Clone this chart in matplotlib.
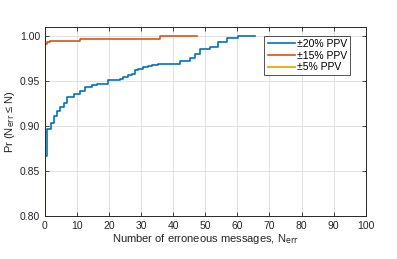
import matplotlib
matplotlib.use("Agg")
import matplotlib.pyplot as plt

plt.rcParams['font.family'] = ['Liberation Sans', 'DejaVu Sans']

# Data (step / CDF values)
n_20 = [0, 0.5, 2.0, 2.8, 3.8, 4.8, 5.8, 6.9, 8.9, 11.0, 12.6, 14.7, 16.2, 19.7,
        23.4, 24.4, 26.0, 27.0, 28.0, 29.0, 30.7, 32.2, 33.3, 35.3, 42.1, 45.2,
        46.8, 48.3, 51.4, 54.0, 56.6, 60.3, 65.5]
p_20 = [0.867, 0.8965, 0.9035, 0.911, 0.9168, 0.921, 0.9257, 0.9317, 0.936, 0.939,
        0.943, 0.9453, 0.947, 0.951, 0.9527, 0.9542, 0.9564, 0.9583, 0.962, 0.9638,
        0.9653, 0.9667, 0.9683, 0.9694, 0.972, 0.976, 0.980, 0.9857, 0.9876,
        0.9932, 0.9976, 1.000, 1.000]

n_15 = [0, 0.7, 1.6, 5.0, 11.0, 17.0, 36.0, 47.3]
p_15 = [0.9908, 0.993, 0.9945, 0.995, 0.9963, 0.997, 0.9995, 0.9995]

n_5 = [0, 0]
p_5 = [0.0, 1.0]

labels = ['\u00b120% PPV', '\u00b115% PPV', '\u00b15% PPV']
colors = ['#0072BD', '#D95319', '#EDB120']

fig = plt.figure(figsize=(3.97, 2.59), dpi=100)
ax = fig.add_axes([45/397, 1-216/259, (365.7-45)/397, (216-27)/259])

ax.step(n_20, p_20, where='post', color=colors[0], lw=1.2, label=labels[0])
ax.step(n_15, p_15, where='post', color=colors[1], lw=1.2, label=labels[1])
ax.plot(n_5, p_5, color=colors[2], lw=1.5, label=labels[2])

ax.set_xlim(0, 100)
ax.set_ylim(0.80, 1.01)
ax.set_xticks(range(0, 101, 10))
ax.set_yticks([0.80, 0.85, 0.90, 0.95, 1.00])
ax.set_yticklabels(['0.80', '0.85', '0.90', '0.95', '1.00'])
ax.grid(True, color='#dcdcdc', lw=0.6)
ax.set_axisbelow(True)
ax.tick_params(direction='in', top=True, right=True, labelsize=7.5,
               colors='#262626', length=3, width=0.6)
for s in ax.spines.values():
    s.set_color('#262626')
    s.set_linewidth(0.7)

ax.set_xlabel('Number of erroneous messages, N$_{\\mathrm{err}}$', fontsize=8,
              color='#262626', labelpad=1)
ax.set_ylabel('Pr (N$_{\\mathrm{err}}$ \u2264 N)', fontsize=8, color='#262626',
              labelpad=2)

leg = ax.legend(loc='upper right', bbox_to_anchor=(350/397, 1-36/259),
                bbox_transform=fig.transFigure, fontsize=7.5, frameon=True,
                fancybox=False, edgecolor='#262626', handlelength=2.6,
                handletextpad=0.2, borderpad=0.3, labelspacing=0.15,
                borderaxespad=0)
leg.get_frame().set_linewidth(0.7)

fig.savefig('out.png', dpi=100)
